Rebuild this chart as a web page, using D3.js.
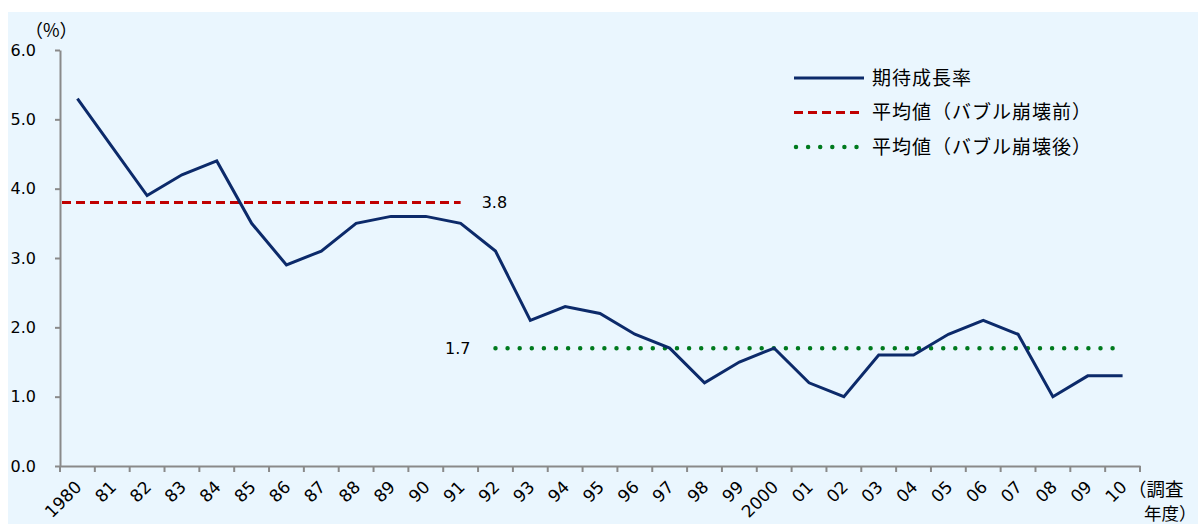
<!DOCTYPE html>
<html>
<head>
<meta charset="utf-8">
<script src="https://cdn.jsdelivr.net/npm/d3@7"></script>
<style>
  body { margin: 0; background: #fff; }
  svg { display: block; font-family: "Noto Sans CJK JP", "Noto Sans", sans-serif; }
  .num { font-family: "DejaVu Sans", sans-serif; }
</style>
</head>
<body>
<svg id="chart" width="1198" height="524"></svg>
<script>
const years = ['1980','81','82','83','84','85','86','87','88','89','90','91','92','93','94','95','96','97','98','99','2000','01','02','03','04','05','06','07','08','09','10'];
const growth = [5.3,4.6,3.9,4.2,4.4,3.5,2.9,3.1,3.5,3.6,3.6,3.5,3.1,2.1,2.3,2.2,1.9,1.7,1.2,1.5,1.7,1.2,1.0,1.6,1.6,1.9,2.1,1.9,1.0,1.3,1.3];
const avgBefore = 3.8;
const avgAfter = 1.7;
const yTicks = [0,1,2,3,4,5,6];
const legendLabels = ['期待成長率','平均値（バブル崩壊前）','平均値（バブル崩壊後）'];

const margin = { top: 50, left: 60 };
const width = 1080, height = 416;

const svg = d3.select('#chart');
svg.append('rect')
  .attr('x', 8).attr('y', 12)
  .attr('width', 1190).attr('height', 512)
  .attr('fill', '#eaf6fe');

const g = svg.append('g').attr('transform', `translate(${margin.left},${margin.top})`);

const x = d3.scaleBand().domain(years).range([0, width]);
const y = d3.scaleLinear().domain([0, 6]).range([height, 0]);
const cx = d => x(d) + x.bandwidth() / 2;

// y axis
const yAxis = g.append('g')
  .call(d3.axisLeft(y).tickValues(yTicks).tickFormat(d3.format('.1f')).tickSize(5).tickSizeOuter(0));
yAxis.select('.domain').attr('stroke', '#8a8a8a').attr('stroke-width', 2);
yAxis.selectAll('.tick line').attr('stroke', '#8a8a8a').attr('stroke-width', 2);
yAxis.selectAll('.tick text')
  .attr('class', 'num')
  .attr('x', -24).attr('text-anchor', 'end')
  .attr('font-size', 16).attr('fill', '#000')
  .attr('font-family', null);

// x axis
const xAxis = g.append('g')
  .attr('transform', `translate(0,${height})`)
  .call(d3.axisBottom(x).tickSize(0).tickFormat(''));
xAxis.select('.domain').attr('stroke', '#8a8a8a').attr('stroke-width', 2);
xAxis.selectAll('.tick').remove();
xAxis.selectAll('.xt')
  .data(years.concat(['__end']))
  .enter().append('line')
  .attr('x1', (d, i) => i * x.step()).attr('x2', (d, i) => i * x.step())
  .attr('y1', 0).attr('y2', 6)
  .attr('stroke', '#8a8a8a').attr('stroke-width', 2);
xAxis.selectAll('.xl')
  .data(years)
  .enter().append('text')
  .attr('class', 'num')
  .attr('transform', d => `translate(${cx(d) + 1},${18}) rotate(-45)`)
  .attr('text-anchor', 'end')
  .attr('dy', '0.35em')
  .attr('font-size', 17)
  .attr('fill', '#000')
  .text(d => d);

// axis titles
svg.append('text').attr('x', 25).attr('y', 37).attr('font-size', 18).attr('fill', '#000').text('（%）');
svg.append('text').attr('x', 1128).attr('y', 496).attr('font-size', 18.5).attr('fill', '#000').text('（調査');
svg.append('text').attr('x', 1144).attr('y', 520).attr('font-size', 17.5).attr('fill', '#000').text('年度）');

// average lines
g.append('line')
  .attr('x1', x(years[0]) + 2).attr('x2', cx('91'))
  .attr('y1', y(avgBefore)).attr('y2', y(avgBefore))
  .attr('stroke', '#c00000').attr('stroke-width', 3)
  .attr('stroke-dasharray', '9,5');
g.append('text')
  .attr('class', 'num')
  .attr('x', cx('91') + 21).attr('y', y(avgBefore)).attr('dy', '0.35em')
  .attr('font-size', 16).attr('fill', '#000').text(avgBefore.toFixed(1));

g.append('line')
  .attr('x1', cx('92')).attr('x2', cx('10') + 2)
  .attr('y1', y(avgAfter)).attr('y2', y(avgAfter))
  .attr('stroke', '#007a1e').attr('stroke-width', 4.5)
  .attr('stroke-linecap', 'round')
  .attr('stroke-dasharray', '0,12.1');
g.append('text')
  .attr('class', 'num')
  .attr('x', cx('92') - 25).attr('y', y(avgAfter)).attr('dy', '0.35em')
  .attr('text-anchor', 'end')
  .attr('font-size', 16).attr('fill', '#000').text(avgAfter.toFixed(1));

// main line
const line = d3.line().x((d, i) => cx(years[i])).y(d => y(d));
g.append('path')
  .datum(growth)
  .attr('d', line)
  .attr('fill', 'none')
  .attr('stroke', '#0c2a6a')
  .attr('stroke-width', 3)
  .attr('stroke-linejoin', 'miter');

// legend
const legend = svg.append('g').attr('transform', 'translate(794,78)');
const styles = [
  { stroke: '#0c2a6a', width: 3, dash: null, cap: 'butt' },
  { stroke: '#c00000', width: 3, dash: '9,5', cap: 'butt' },
  { stroke: '#007a1e', width: 4.5, dash: '0,12.1', cap: 'round' }
];
legendLabels.forEach((lab, i) => {
  const row = legend.append('g').attr('transform', `translate(0,${i * 34.5})`);
  const s = styles[i];
  row.append('line')
    .attr('x1', s.cap === 'round' ? 2 : 0).attr('x2', 70)
    .attr('y1', 0).attr('y2', 0)
    .attr('stroke', s.stroke).attr('stroke-width', s.width)
    .attr('stroke-dasharray', s.dash)
    .attr('stroke-linecap', s.cap);
  row.append('text')
    .attr('x', 78).attr('y', 0).attr('dy', '0.35em')
    .attr('font-size', 19).attr('letter-spacing', 1)
    .attr('fill', '#000').text(lab);
});
</script>
</body>
</html>
